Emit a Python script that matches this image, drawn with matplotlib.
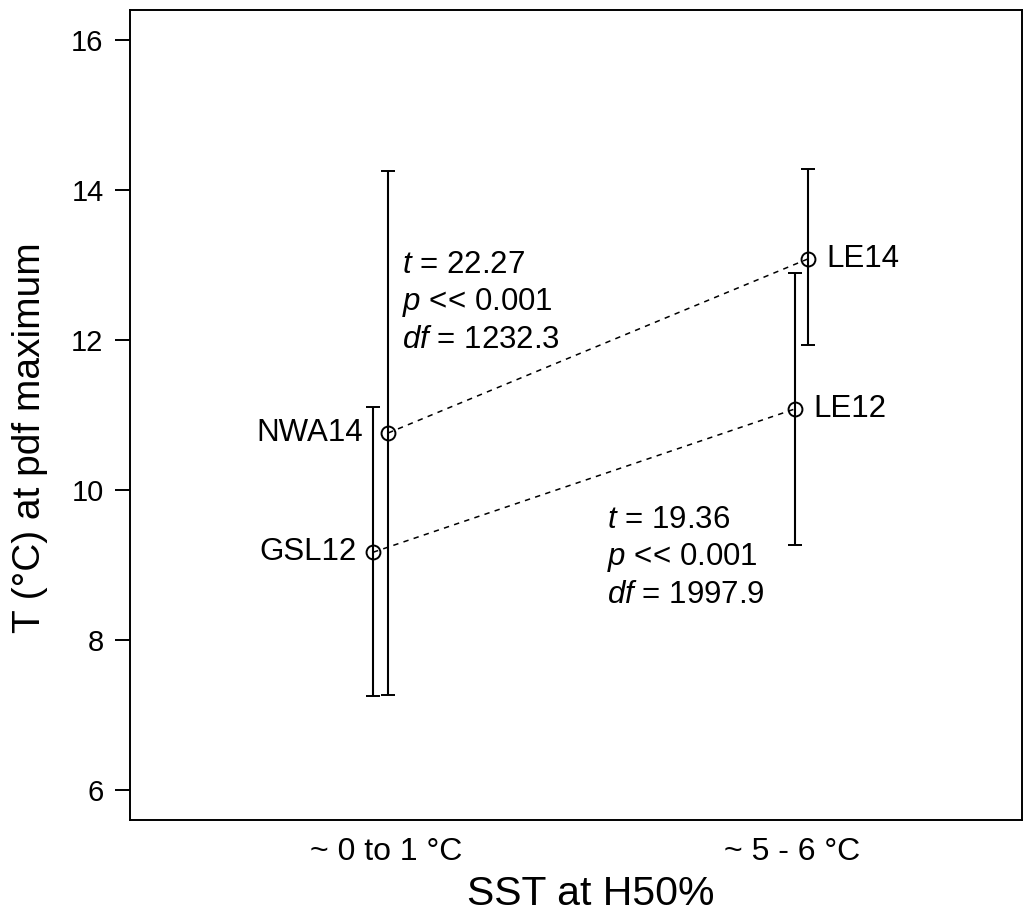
import matplotlib
matplotlib.use('Agg')
import matplotlib.pyplot as plt

plt.rcParams['font.family'] = ['Liberation Sans', 'DejaVu Sans']
plt.rcParams['mathtext.fontset'] = 'custom'
plt.rcParams['mathtext.rm'] = 'Liberation Sans'
plt.rcParams['mathtext.it'] = 'Liberation Sans:italic'

# data
groups = ['GSL12', 'NWA14', 'LE12', 'LE14']
xpos = [0.968, 1.005, 2.007, 2.039]
tmax = [9.17, 10.76, 11.08, 13.08]
lower = [7.25, 7.27, 9.27, 11.93]
upper = [11.10, 14.25, 12.89, 14.28]
pairs = [(1, 3), (0, 2)]          # NWA14 -> LE14, GSL12 -> LE12
t_vals = ['22.27', '19.36']
df_vals = ['1232.3', '1997.9']
xticks = [1, 2]
xtick_labels = ['~ 0 to 1 °C', '~ 5 - 6 °C']
yticks = [6, 8, 10, 12, 14, 16]

W, H = 1031, 922
fig = plt.figure(figsize=(W / 100, H / 100), dpi=100)
ax = fig.add_axes([130 / W, 102 / H, 892 / W, 810 / H])

# connecting dashed lines
for a, b in pairs:
    ax.plot([xpos[a], xpos[b]], [tmax[a], tmax[b]], ls=(0, (3.5, 3.5)),
            color='black', lw=1.1, zorder=1)

yerr = [[t - lo for t, lo in zip(tmax, lower)],
        [hi - t for t, hi in zip(tmax, upper)]]
ax.errorbar(xpos, tmax, yerr=yerr, fmt='o', mfc='none', mec='black',
            ms=10, mew=1.4, ecolor='black', elinewidth=1.5, capsize=5.3,
            capthick=1.5, zorder=2)

# point labels (offsets in points, left labels differ slightly in the original)
offsets = {'GSL12': -11.5, 'NWA14': -18, 'LE12': 13.5, 'LE14': 13.5}
for i, g in enumerate(groups):
    dx = offsets[g]
    ax.annotate(g, (xpos[i], tmax[i]), xytext=(dx, 0), textcoords='offset points',
                ha='right' if dx < 0 else 'left', va='center', fontsize=22.5)

# t-test annotations
for (tx, ty), t, d in zip([(1.04, 13.0), (1.544, 9.6)], t_vals, df_vals):
    ax.text(tx, ty, r'$t$ = ' + t, fontsize=22.5, va='center')
    ax.text(tx, ty - 0.5, r'$p$ << 0.001', fontsize=22.5, va='center')
    ax.text(tx, ty - 1.0, r'$df$ = ' + d, fontsize=22.5, va='center')

ax.set_xlim(0.369, 2.567)
ax.set_ylim(5.6, 16.4)
ax.set_yticks(yticks)
ax.set_xticks(xticks)
ax.set_xticklabels(xtick_labels)
ax.tick_params(axis='y', length=11, width=1.4, labelsize=21, pad=8)
ax.tick_params(axis='x', length=0, labelsize=23, pad=12)
for s in ax.spines.values():
    s.set_linewidth(1.4)

fig.text(30 / W, 1 - 438 / H, 'T (°C) at pdf maximum', rotation=90,
         ha='center', va='center', fontsize=28)
fig.text(591 / W, 1 - 894 / H, 'SST at H50%', ha='center', va='center', fontsize=29.5)

fig.savefig('out.png', dpi=100)
